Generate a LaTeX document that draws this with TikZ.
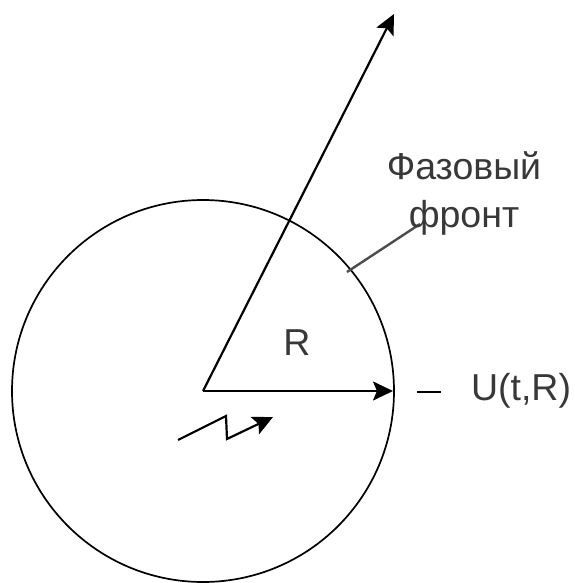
\documentclass[tikz,border=0pt]{standalone}
\usepackage{fontspec}
\setmainfont{Liberation Sans}
\usetikzlibrary{arrows.meta}
\begin{document}
\begin{tikzpicture}[x=1pt,y=-1pt,
  ln/.style={draw=black,line width=1.7pt},
  arr/.style={draw=black,line width=2.2pt,-{Stealth[length=20pt,width=19pt,inset=4pt]}},
  lbl/.style={inner sep=0pt,font=\fontsize{37.5}{48}\selectfont,text=black!78}]
\useasboundingbox (0,0) rectangle (574,583);
\node[circle,ln,minimum size=382pt,inner sep=0pt] (circ) at (203,391) {};
\coordinate (c) at (203,391);
\coordinate (top) at (394,14);
\coordinate (re) at (393,391);
\draw[arr] (c) -- (top);
\draw[arr] (c) -- (re);
\coordinate (f1) at (347,272);
\coordinate (f2) at (420,224);
\draw[draw=black!70,line width=2.4pt] (f1) -- (f2);
\node[lbl,align=center] (ft) at (464,193) {Фазовый\\фронт};
\node[lbl] (r) at (297,343) {R};
\node[lbl] (u) at (521,391) {U(t,R)};
\coordinate (d1) at (417,392);
\coordinate (d2) at (441,392);
\draw[ln] (d1) -- (d2);
\coordinate (z1) at (178,440);
\coordinate (z2) at (226,416);
\coordinate (z3) at (227,439);
\coordinate (z4) at (273,417);
\draw[arr] (z1) -- (z2) -- (z3) -- (z4);
\end{tikzpicture}
\end{document}
